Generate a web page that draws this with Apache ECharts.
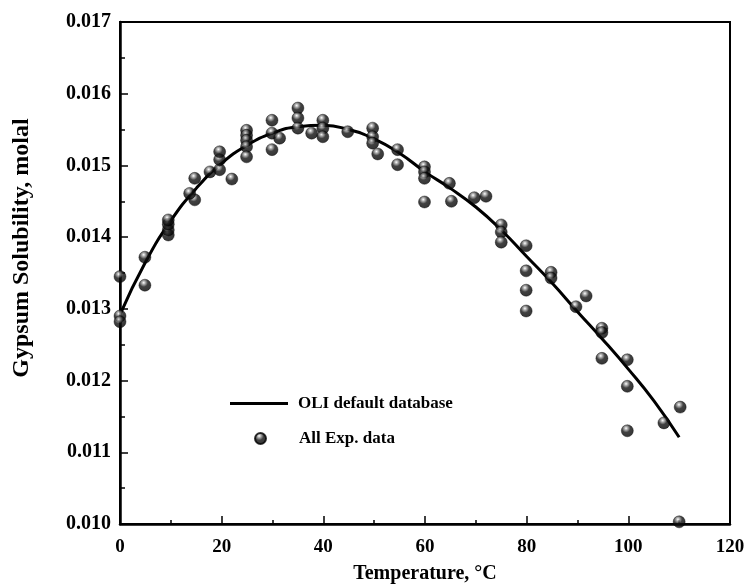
<!DOCTYPE html>
<html>
<head>
<meta charset="utf-8">
<script src="https://cdn.jsdelivr.net/npm/echarts@6/dist/echarts.min.js"></script>
<style>
  html, body { margin: 0; padding: 0; background: #fff; }
  #chart { width: 752px; height: 586px; }
</style>
</head>
<body>
<div id="chart"></div>
<script>
// OLI default database curve
var curveT = [0, 5, 10, 15, 20, 25, 30, 35, 40, 45, 50, 55, 60, 65, 70, 75, 80, 85, 90, 95, 100, 105, 110];
var curveS = [0.01292, 0.01365, 0.01423, 0.01468, 0.01503, 0.01528, 0.01545, 0.01554, 0.01556, 0.01550,
  0.01537, 0.01517, 0.01491, 0.01468, 0.01442, 0.01410, 0.01373, 0.01336, 0.01296, 0.01257, 0.01216, 0.01172, 0.01121];

// All experimental points
var expT = [0, 0, 0, 4.9, 4.9, 9.5, 9.5, 9.5, 9.5, 14.7, 14.7, 13.7, 17.7, 19.6, 19.6, 19.6, 22,
  24.9, 24.9, 24.9, 24.9, 24.9, 29.9, 29.9, 29.9, 31.4, 35, 35, 35, 37.7, 39.9, 39.9, 39.9, 44.8,
  49.7, 49.7, 49.7, 50.7, 54.6, 54.6, 59.9, 59.9, 59.9, 59.9, 64.8, 65.2, 69.7, 72, 75, 75, 75,
  79.9, 79.9, 79.9, 79.9, 84.8, 84.8, 89.7, 91.7, 94.8, 94.8, 94.8, 99.8, 99.8, 99.8, 107, 110.2, 110];
var expS = [0.01345, 0.01290, 0.01282, 0.01333, 0.01372, 0.01403, 0.01410, 0.01418, 0.01424, 0.01482, 0.01452, 0.01461,
  0.01491, 0.01494, 0.01508, 0.01519, 0.01481,
  0.01549, 0.01542, 0.01535, 0.01526, 0.01512, 0.01563, 0.01545, 0.01522, 0.01538, 0.01580, 0.01566, 0.01552,
  0.01545, 0.01563, 0.01552, 0.01540, 0.01547,
  0.01552, 0.01540, 0.01531, 0.01516, 0.01522, 0.01501, 0.01498, 0.01491, 0.01482, 0.01449, 0.01475, 0.01450,
  0.01455, 0.01457, 0.01417, 0.01407, 0.01393,
  0.01388, 0.01353, 0.01326, 0.01297, 0.01351, 0.01343, 0.01303, 0.01318, 0.01273, 0.01267, 0.01231,
  0.01229, 0.01192, 0.01130, 0.01141, 0.01163, 0.01003];

var xTicks = [0, 20, 40, 60, 80, 100, 120];

var font = "'Liberation Serif', 'Times New Roman', serif";

function pairs(xs, ys) {
  var out = [];
  for (var i = 0; i < xs.length; i++) out.push([xs[i], ys[i]]);
  return out;
}

// 黑色小球 带高光
var ball = {
  type: "radial", x: 0.4, y: 0.3, r: 0.75,
  colorStops: [
    { offset: 0, color: "#ffffff" },
    { offset: 0.18, color: "#999999" },
    { offset: 0.45, color: "#111111" },
    { offset: 1, color: "#000000" },
  ],
};

var legendText = { fontFamily: font, fontWeight: "bold", fontSize: 17, color: "#000" };

var chart = echarts.init(document.getElementById("chart"));
var option = {
  backgroundColor: "#fff",
  animation: false,
  grid: {
    left: 120, right: 22, top: 22, bottom: 62,
    outerBoundsMode: "none",
    show: true, borderColor: "#000", borderWidth: 2,
  },
  legend: [
    {
      left: 230, top: 395, padding: 0,
      itemWidth: 58, itemHeight: 3,
      textStyle: Object.assign({ padding: [0, 0, 0, 5] }, legendText),
      data: [{ name: "OLI default database", icon: "rect" }],
    },
    {
      left: 254, top: 430, padding: 0,
      itemWidth: 11, itemHeight: 11,
      textStyle: Object.assign({ padding: [0, 0, 0, 28] }, legendText),
      data: ["All Exp. data"],
    },
  ],
  xAxis: {
    type: "value",
    min: 0, max: 120, interval: 20,
    name: "Temperature, °C",
    nameLocation: "middle",
    nameGap: 40,
    nameTextStyle: { fontFamily: font, fontWeight: "bold", fontSize: 20, color: "#000" },
    axisLine: { show: true, lineStyle: { color: "#000", width: 2.5 } },
    axisTick: { inside: true, length: 8, lineStyle: { color: "#000", width: 1.5 } },
    minorTick: { show: true, splitNumber: 2, length: 4, lineStyle: { color: "#000", width: 1.5 } },
    splitLine: { show: false },
    axisLabel: {
      margin: 14,
      fontFamily: font, fontWeight: "bold", fontSize: 19, color: "#000",
      formatter: function (v) { return xTicks.indexOf(v) >= 0 ? String(v) : ""; },
    },
  },
  yAxis: {
    type: "value",
    min: 0.010, max: 0.017, interval: 0.001,
    name: "Gypsum Solubility, molal",
    nameLocation: "middle",
    nameGap: 86,
    nameTextStyle: { fontFamily: font, fontWeight: "bold", fontSize: 24, color: "#000", padding: [0, 0, 0, 50] },
    axisLine: { show: true, lineStyle: { color: "#000", width: 2.5 } },
    axisTick: { inside: true, length: 8, lineStyle: { color: "#000", width: 1.5 } },
    minorTick: { show: true, splitNumber: 2, length: 5, lineStyle: { color: "#000", width: 1.5 } },
    splitLine: { show: false },
    axisLabel: {
      margin: 9,
      fontFamily: font, fontWeight: "bold", fontSize: 20, color: "#000",
      formatter: function (v) { return v.toFixed(3); },
    },
  },
  series: [
    {
      name: "OLI default database",
      type: "line",
      data: pairs(curveT, curveS),
      smooth: true,
      symbol: "none",
      lineStyle: { color: "#000", width: 3 },
      itemStyle: { color: "#000" },
      z: 2,
    },
    {
      name: "All Exp. data",
      type: "scatter",
      data: pairs(expT, expS),
      symbol: "circle",
      symbolSize: 12,
      itemStyle: { color: ball, borderColor: "#000", borderWidth: 0.5 },
      z: 3,
    },
  ],
};
option && chart.setOption(option);
</script>
</body>
</html>
